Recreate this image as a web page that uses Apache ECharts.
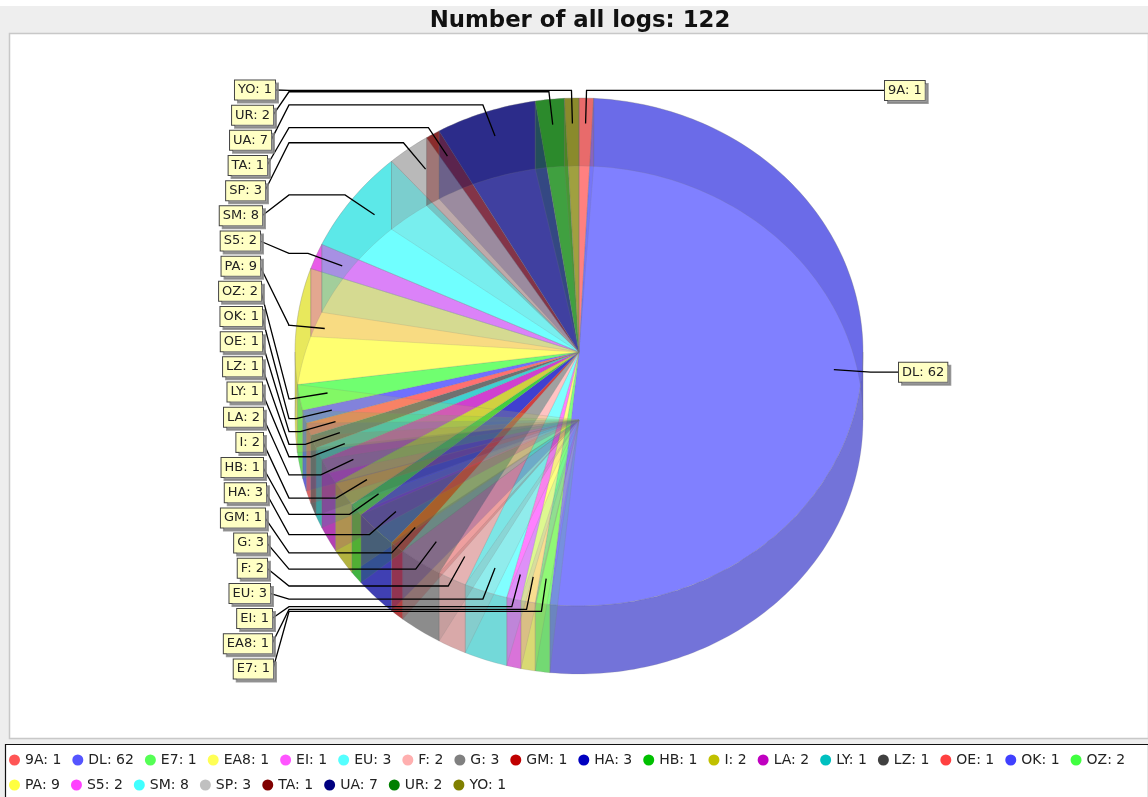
<!DOCTYPE html>
<html>
<head>
<meta charset="utf-8">
<title>Number of all logs</title>
<style>
  html, body { margin: 0; padding: 0; background: #fff; }
  #main { width: 1148px; height: 797px; }
</style>
<script src="https://cdn.jsdelivr.net/npm/echarts@6/dist/echarts.min.js"></script>
</head>
<body>
<div id="main"></div>
<script>
const categories = ['9A','DL','E7','EA8','EI','EU','F','G','GM','HA','HB','I','LA','LY','LZ','OE','OK','OZ','PA','S5','SM','SP','TA','UA','UR','YO'];
const logCounts = [1,62,1,1,1,3,2,3,1,3,1,2,2,1,1,1,1,2,9,2,8,3,1,7,2,1];
const sliceColors = ['#FF5555','#5555FF','#55FF55','#FFFF55','#FF55FF','#55FFFF','#FFAFAF','#808080','#C00000','#0000C0','#00C000','#C0C000','#C000C0','#00C0C0','#404040','#FF4040','#4040FF','#40FF40','#FFFF40','#FF40FF','#40FFFF','#C0C0C0','#800000','#000080','#008000','#808000'];

// right edge of each left-hand label box, going up the column from E7 to YO
const leftLabelRight = [273,272,272,270,267,267,265,266,263,263,263,262,262,262,262,261,260,260,262,265,267,271,273,275];

const PIE_DEPTH = 68;
const TOP_ALPHA = 0.75;
const BACK_WALL_ALPHA = 0.3;
const FRONT_WALL_ALPHA = 0.75;
const SIDE_ALPHA = 0.18;
const EDGE = 'rgba(120,120,120,0.3)';
const FONT = '"DejaVu Sans", sans-serif';

const total = logCounts.reduce((a, b) => a + b, 0);
const labels = categories.map((c, i) => c + ': ' + logCounts[i]);

// [startCount, endCount, index]
let running = 0;
const sliceRows = logCounts.map((v, i) => {
  const row = [running, running + v, i];
  running += v;
  return row;
});

function rgba(hex, alpha, dark) {
  const n = parseInt(hex.slice(1), 16);
  const f = dark || 1;
  const r = Math.round(((n >> 16) & 255) * f);
  const g = Math.round(((n >> 8) & 255) * f);
  const b = Math.round((n & 255) * f);
  return 'rgba(' + r + ',' + g + ',' + b + ',' + alpha + ')';
}

function angle(count) {
  return count / total * Math.PI * 2;
}

// hidden axes run -1..1 over the top ellipse, so api.coord does the squash
function rim(api, theta, f) {
  const k = f === undefined ? 1 : f;
  return api.coord([k * Math.sin(theta), k * Math.cos(theta)]);
}

function arcPoints(api, a0, a1) {
  const steps = Math.max(2, Math.ceil((a1 - a0) / 0.02));
  const pts = [];
  for (let s = 0; s <= steps; s++) {
    pts.push(rim(api, a0 + (a1 - a0) * s / steps));
  }
  return pts;
}

function wall(api, a0, a1) {
  const top = arcPoints(api, a0, a1);
  const bottom = top.map(p => [p[0], p[1] + PIE_DEPTH]).reverse();
  return top.concat(bottom);
}

function wallPieces(api, i, ranges, alpha, dark) {
  const a0 = angle(api.value(0));
  const a1 = angle(api.value(1));
  const kids = [];
  ranges.forEach(r => {
    const lo = Math.max(a0, r[0]);
    const hi = Math.min(a1, r[1]);
    if (hi > lo) {
      kids.push({
        type: 'polygon',
        shape: { points: wall(api, lo, hi) },
        style: { fill: rgba(sliceColors[i], alpha, dark), stroke: EDGE, lineWidth: 0.6 }
      });
    }
  });
  return { type: 'group', children: kids };
}

const BACK = [[0, Math.PI / 2], [Math.PI * 1.5, Math.PI * 2]];
const FRONT = [[Math.PI / 2, Math.PI * 1.5]];

function renderBackWall(params, api) {
  return wallPieces(api, api.value(2), BACK, BACK_WALL_ALPHA, 0.7);
}

function renderFrontWall(params, api) {
  return wallPieces(api, api.value(2), FRONT, FRONT_WALL_ALPHA, 0.8);
}

// radial side of a slice at its starting edge: back edges meet the upper centre,
// front edges the lower one
function renderSide(params, api) {
  const i = api.value(2);
  const theta = angle(api.value(0));
  const c = rim(api, 0, 0);
  const apex = Math.cos(theta) >= 0 ? c : [c[0], c[1] + PIE_DEPTH];
  const p = rim(api, theta);
  return {
    type: 'polygon',
    shape: { points: [apex, [p[0], p[1] + PIE_DEPTH], p] },
    style: { fill: rgba(sliceColors[i], SIDE_ALPHA, 0.85), stroke: EDGE, lineWidth: 0.6 }
  };
}

function renderTop(params, api) {
  const i = api.value(2);
  const c = rim(api, 0, 0);
  const pts = arcPoints(api, angle(api.value(0)), angle(api.value(1)));
  return {
    type: 'polygon',
    shape: { points: [c].concat(pts) },
    style: { fill: rgba(sliceColors[i], TOP_ALPHA), stroke: EDGE, lineWidth: 0.6 }
  };
}

function renderLabel(params, api) {
  const i = api.value(2);
  const mid = angle((api.value(0) + api.value(1)) / 2);
  const inner = rim(api, mid, 0.9);
  const elbow = rim(api, mid, 1.03);
  const onRight = Math.sin(mid) > 0;
  let boxX, boxY, knee;
  if (onRight) {
    boxX = i === 0 ? 885 : 899;
    boxY = elbow[1];
    knee = elbow;
  } else {
    boxX = leftLabelRight[i - 2];
    boxY = 90 + (25 - i) * 25.17;
    knee = [289, elbow[1]];
  }
  return {
    type: 'group',
    children: [
      {
        type: 'polyline',
        shape: { points: [[boxX, boxY], knee, elbow, inner] },
        style: { fill: null, stroke: '#000', lineWidth: 1.3 }
      },
      {
        type: 'text',
        style: {
          x: boxX,
          y: boxY,
          text: labels[i],
          align: onRight ? 'left' : 'right',
          verticalAlign: 'middle',
          font: '13px ' + FONT,
          fill: '#222',
          backgroundColor: '#FFFFC4',
          borderColor: '#444',
          borderWidth: 1,
          padding: [3, 3, 3, 3],
          shadowColor: 'rgba(130,130,130,0.8)',
          shadowOffsetX: 3,
          shadowOffsetY: 3,
          shadowBlur: 0
        }
      }
    ]
  };
}

function layer(name, render, data, z) {
  return {
    type: 'custom',
    name: name,
    coordinateSystem: 'cartesian2d',
    renderItem: render,
    data: data,
    clip: false,
    silent: true,
    animation: false,
    z: z
  };
}

// one top series per slice so the legend can pick up name and colour
const series = labels.map((name, i) => {
  const s = layer(name, renderTop, [sliceRows[i]], 2);
  s.itemStyle = { color: sliceColors[i] };
  return s;
});
series.push(layer('frontWalls', renderFrontWall, sliceRows, 3));
series.push(layer('sides', renderSide, sliceRows, 4));
series.push(layer('backWalls', renderBackWall, sliceRows, 5));
series.push(layer('pieLabels', renderLabel, sliceRows, 6));

const chart = echarts.init(document.getElementById('main'));
chart.setOption({
  animation: false,
  backgroundColor: '#fff',
  title: {
    text: 'Number of all logs: ' + total,
    left: 575,
    top: 5,
    textAlign: 'center',
    textStyle: { fontFamily: FONT, fontWeight: 'bold', fontSize: 22.8, color: '#111' }
  },
  grid: { left: 295, top: 98, width: 568, height: 508 },
  xAxis: { type: 'value', min: -1, max: 1, show: false },
  yAxis: { type: 'value', min: -1, max: 1, show: false },
  legend: {
    data: labels,
    left: 9,
    top: 753,
    width: 1139,
    icon: 'circle',
    itemWidth: 11,
    itemHeight: 11,
    itemGap: 11,
    padding: 0,
    selectedMode: false,
    textStyle: { fontFamily: FONT, fontSize: 14, color: '#222' }
  },
  graphic: [
    { type: 'rect', z: -10, shape: { x: 0, y: 6, width: 1148, height: 791 }, style: { fill: '#EEEEEE' } },
    { type: 'rect', z: -9, shape: { x: 9.5, y: 33.5, width: 1139, height: 705 }, style: { fill: '#fff', stroke: '#C8C8C8', lineWidth: 1.5 } },
    { type: 'rect', z: -9, shape: { x: 5.5, y: 744.5, width: 1143, height: 53 }, style: { fill: '#fff', stroke: '#111', lineWidth: 1.2 } }
  ],
  series: series
});
</script>
</body>
</html>
